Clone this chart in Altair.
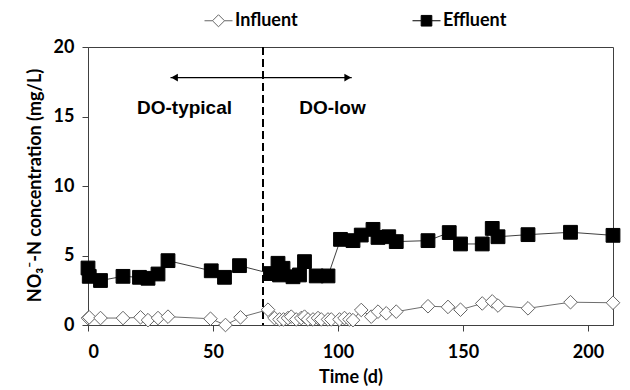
import altair as alt
import pandas as pd

series_names = ["Influent", "Effluent"]

inf_day = [0, 0.5, 5, 14, 21, 24, 28, 32, 49, 55, 61, 72, 74.6, 76.6, 78.2, 80, 81.3, 83.3,
           85.3, 86.6, 88, 90, 92, 93.3, 96, 97.3, 100.6, 102.6, 104.6, 106, 109.3, 113.3,
           116, 119.3, 123.3, 136, 144, 149, 157.7, 161.7, 164, 176, 193, 210]
inf_val = [0.5, 0.55, 0.5, 0.5, 0.55, 0.35, 0.5, 0.6, 0.45, 0.0, 0.55, 1.1, 0.5, 0.4, 0.4, 0.5,
           0.6, 0.4, 0.5, 0.6, 0.4, 0.4, 0.5, 0.4, 0.4, 0.4, 0.4, 0.5, 0.4, 0.35, 1.08, 0.6,
           0.96, 0.84, 0.96, 1.35, 1.3, 1.1, 1.55, 1.7, 1.4, 1.2, 1.64, 1.6]

eff_day = [0, 0.5, 5, 14, 20.6, 24, 28, 32, 49.3, 54.6, 60.6, 73, 76, 76.6, 78, 82, 84.6, 86.6,
           91.3, 96, 101, 106, 109.3, 114, 116, 120.3, 123.3, 136, 144.5, 149, 157.7, 161.7,
           164, 176, 193, 210]
eff_val = [4.1, 3.5, 3.2, 3.5, 3.43, 3.36, 3.67, 4.63, 3.9, 3.43, 4.27, 3.7, 4.44, 3.6, 4.08,
           3.47, 3.6, 4.56, 3.53, 3.53, 6.16, 6.07, 6.47, 6.88, 6.3, 6.35, 6.0, 6.07, 6.65,
           5.83, 5.83, 6.95, 6.35, 6.5, 6.67, 6.45]

divider_day = [70]
arrow_start = [33]
arrow_end = [105.5]
arrow_level = [17.8]
head_days = [34.6, 103.9]
head_shapes = ["triangle-left", "triangle-right"]
phase_labels = ["DO-typical", "DO-low"]
phase_days = [38.6, 97.8]
phase_level = [15.6, 15.6]

x_ticks = [0, 50, 100, 150, 200]
y_ticks = [0, 5, 10, 15, 20]

df = pd.concat([
    pd.DataFrame({"day": inf_day, "conc": inf_val, "series": "Influent"}),
    pd.DataFrame({"day": eff_day, "conc": eff_val, "series": "Effluent"}),
], ignore_index=True)
df["legend"] = df["series"]

AX = "#404040"
FONT = "Lato"

x_scale = alt.Scale(domain=[0, 210], nice=False, zero=False)
y_scale = alt.Scale(domain=[0, 20], nice=False)

x_axis = alt.Axis(values=x_ticks, title="Time (d)", grid=False, tickSize=6,
                  labelFont=FONT, labelFontSize=18, labelFontWeight="bold", labelColor="black",
                  labelPadding=12, titleFont=FONT, titleFontSize=18, titleFontWeight="bold",
                  titleColor="black", titlePadding=7, domainColor=AX, tickColor=AX)
y_axis = alt.Axis(values=y_ticks, title="NO₃⁻-N concentration (mg/L)", grid=False, tickSize=6,
                  labelFont=FONT, labelFontSize=18, labelFontWeight="bold", labelColor="black",
                  labelPadding=8, titleFont=FONT, titleFontSize=18, titleFontWeight="bold",
                  titleColor="black", titleX=-53, titleY=138, titleAngle=-90,
                  titleAlign="center", titleBaseline="middle", domainColor=AX, tickColor=AX)

X = alt.X("day:Q", scale=x_scale, axis=x_axis)
Y = alt.Y("conc:Q", scale=y_scale, axis=y_axis)

divider = alt.Chart(pd.DataFrame({"day": divider_day})).mark_rule(
    color="black", strokeWidth=2, strokeDash=[8, 4]).encode(x=X)

lines = alt.Chart(df).mark_line(strokeWidth=1).encode(
    x=X, y=Y,
    color=alt.Color("series:N", scale=alt.Scale(domain=series_names, range=["#6e6e6e", "#404040"]),
                    legend=None))

points = alt.Chart(df).mark_point(filled=True, opacity=1, strokeWidth=1).encode(
    x=X, y=Y,
    shape=alt.Shape("series:N", scale=alt.Scale(domain=series_names, range=["diamond", "square"]),
                    legend=None),
    fill=alt.Fill("series:N", scale=alt.Scale(domain=series_names, range=["white", "black"]),
                  legend=None),
    stroke=alt.Stroke("series:N", scale=alt.Scale(domain=series_names, range=["#666666", "black"]),
                      legend=None),
    size=alt.Size("series:N", scale=alt.Scale(domain=series_names, range=[185, 190]), legend=None),
)

inf_path = "M-1,0L-0.43,0M0.43,0L1,0M-0.43,0L0,-0.43L0.43,0L0,0.43Z"
eff_path = "M-1,0L-0.38,0M0.38,0L1,0M-0.38,-0.38L0.38,-0.38L0.38,0.38L-0.38,0.38Z"
leg = alt.Legend(orient="none", legendX=116, legendY=-41, direction="horizontal", title=None,
                 labelFont=FONT, labelFontSize=18, labelFontWeight="bold", labelColor="black",
                 symbolSize=784, symbolStrokeWidth=1, symbolOpacity=1, columnPadding=112,
                 labelOffset=2)
legend_layer = alt.Chart(df).mark_point(filled=True, opacity=0).encode(
    x=X, y=Y,
    shape=alt.Shape("legend:N", scale=alt.Scale(domain=series_names, range=[inf_path, eff_path]),
                    legend=leg),
    fill=alt.Fill("legend:N", scale=alt.Scale(domain=series_names, range=["white", "black"]),
                  legend=leg),
    stroke=alt.Stroke("legend:N", scale=alt.Scale(domain=series_names, range=["#666666", "black"]),
                      legend=leg),
)

arrow = alt.Chart(pd.DataFrame({"day": arrow_start, "day2": arrow_end, "conc": arrow_level})).mark_rule(
    color="black", strokeWidth=1.3).encode(x=X, x2="day2:Q", y=Y)
heads = alt.Chart(pd.DataFrame({"day": head_days, "conc": arrow_level * 2, "dir": head_shapes})).mark_point(
    filled=True, color="black", size=60, opacity=1).encode(
    x=X, y=Y, shape=alt.Shape("dir:N", scale=None))
texts = alt.Chart(pd.DataFrame({"day": phase_days, "conc": phase_level, "label": phase_labels})).mark_text(
    font="Liberation Sans", fontWeight="bold", fontSize=19, color="black",
    align="center", baseline="middle").encode(x=X, y=Y, text="label:N")

chart = alt.layer(legend_layer, divider, lines, points, arrow, heads, texts).resolve_scale(
    shape="independent", fill="independent", stroke="independent"
).properties(
    width=525, height=278,
    autosize=alt.AutoSizeParams(type="none"),
    padding={"left": 88, "top": 47, "right": 17, "bottom": 65},
).configure_view(stroke=AX, strokeWidth=1)

chart.save("out.html", embed_options={"renderer": "svg", "actions": False})
